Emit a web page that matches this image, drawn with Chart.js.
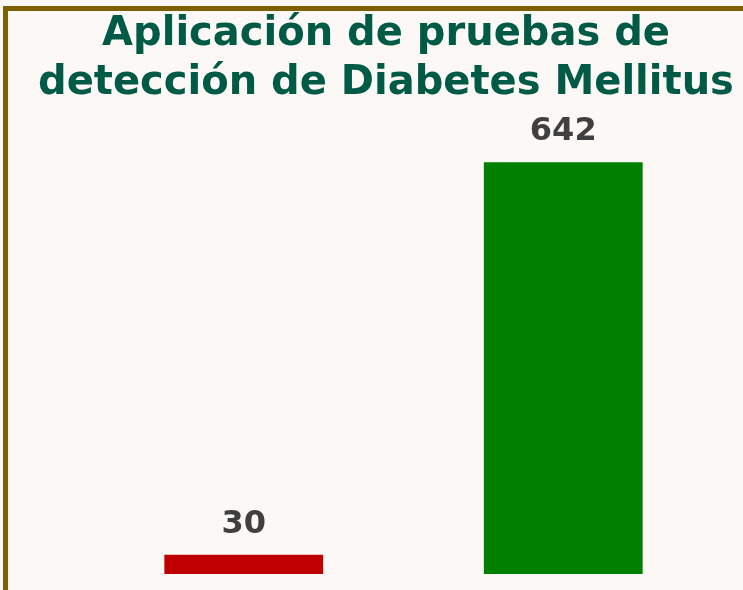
<!DOCTYPE html>
<html>
<head>
<meta charset="utf-8">
<script src="https://cdn.jsdelivr.net/npm/chart.js@4"></script>
<style>
  html, body { margin: 0; padding: 0; background: #fbf8f5; }
  #frame {
    position: absolute; left: 3px; top: 6px; width: 760px; height: 600px;
    border-left: 5px solid #7f6000; border-top: 5px solid #7f6000;
  }
  #wrap { position: absolute; left: 0; top: 0; width: 743px; height: 590px; }
</style>
</head>
<body>
<div id="frame"></div>
<div id="wrap"><canvas id="chart"></canvas></div>
<script>
const categories = ['Grupo 1', 'Grupo 2'];
const values = [30, 642];
const barColors = ['#c00000', '#008000'];
const titleLines = ['Aplicación de pruebas de', 'detección de Diabetes Mellitus'];

// two-line title, centred on the page rather than the plot area
const pageTitle = {
    id: 'pageTitle',
    afterDraw(chart) {
        const ctx = chart.ctx;
        ctx.save();
        ctx.font = 'bold 40px "DejaVu Sans"';
        ctx.fillStyle = '#005a45';
        ctx.textAlign = 'center';
        ctx.textBaseline = 'alphabetic';
        titleLines.forEach((line, i) => {
            ctx.fillText(line, 386, 45 + i * 49);
        });
        ctx.restore();
    }
};

// value labels above each bar
const valueLabels = {
    id: 'valueLabels',
    afterDatasetsDraw(chart) {
        const ctx = chart.ctx;
        const meta = chart.getDatasetMeta(0);
        ctx.save();
        ctx.font = 'bold 32px "DejaVu Sans"';
        ctx.fillStyle = '#404040';
        ctx.textAlign = 'center';
        ctx.textBaseline = 'alphabetic';
        meta.data.forEach((bar, i) => {
            ctx.fillText(values[i], bar.x, bar.y - 22);
        });
        ctx.restore();
    }
};

new Chart(document.getElementById('chart').getContext('2d'), {
    type: 'bar',
    data: {
        labels: categories,
        datasets: [{
            data: values,
            backgroundColor: barColors,
            borderWidth: 0,
            categoryPercentage: 1,
            barPercentage: 0.497
        }]
    },
    options: {
        responsive: true,
        maintainAspectRatio: false,
        animation: false,
        layout: { padding: { left: 84, right: 20, bottom: 16, top: 125 } },
        scales: {
            x: { display: false },
            y: { display: false, min: 0, max: 700 }
        },
        plugins: {
            legend: { display: false },
            tooltip: { enabled: false },
            title: { display: false }
        }
    },
    plugins: [valueLabels, pageTitle]
});
</script>
</body>
</html>
